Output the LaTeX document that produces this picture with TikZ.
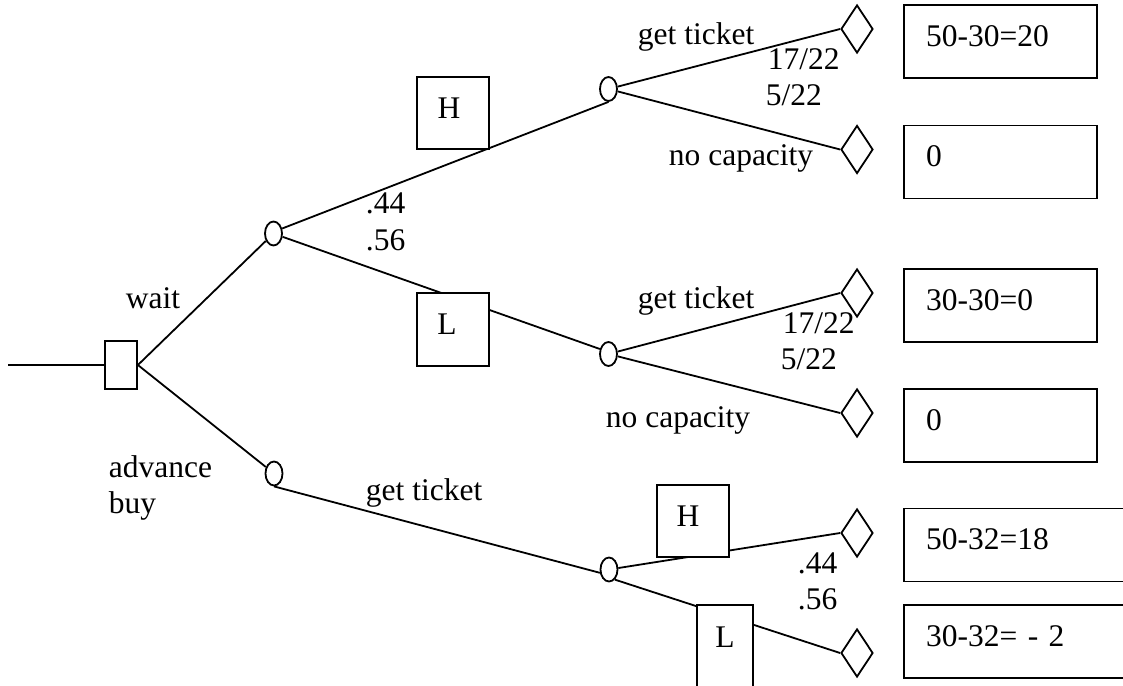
\documentclass[tikz,border=0pt]{standalone}
\usepackage{fontspec}
\setmainfont{Liberation Serif}
\usetikzlibrary{shapes.geometric}
\begin{document}
\begin{tikzpicture}[x=1pt,y=-1pt,
  line width=1.8pt,
  every node/.style={font=\fontsize{31.5}{36}\selectfont},
  chance/.style={draw, ellipse, fill=white, minimum width=17pt, minimum height=24pt, inner sep=0pt},
  decision/.style={draw, rectangle, fill=white, minimum width=32pt, minimum height=48pt, inner sep=0pt},
  endpt/.style={draw, diamond, fill=white, minimum width=32pt, minimum height=48pt, inner sep=0pt},
  statebox/.style={draw, rectangle, fill=white, minimum width=72pt, minimum height=72pt, inner sep=0pt},
  payoff/.style={draw, rectangle, fill=white, minimum height=73pt, inner xsep=22pt, inner ysep=0pt, text width=149pt, align=left, text height=34pt, text depth=25pt},
  widepayoff/.style={payoff, text width=192pt},
  txt/.style={anchor=base west, inner sep=0pt}
]
\useasboundingbox (0,0) rectangle (1123,685);
\clip (0,0) rectangle (1123,685);

% decision and chance nodes
\coordinate (start) at (8,365);
\node[decision] (sq) at (121,365) {};
\node[chance] (c1) at (273.5,233.5) {};
\node[chance] (c2) at (608.5,89) {};
\node[chance] (c3) at (608.5,354) {};
\node[chance] (c4) at (274,473.5) {};
\node[chance] (c5) at (609,569.5) {};

% end points
\node[endpt] (d1) at (857,29) {};
\node[endpt] (d2) at (857,149.5) {};
\node[endpt] (d3) at (857,293) {};
\node[endpt] (d4) at (857,413) {};
\node[endpt] (d5) at (857,533) {};
\node[endpt] (d6) at (857,653) {};

% connectors
\draw (start) -- (sq.west);
\draw (sq.east) -- (c1);
\draw (sq.east) -- (c4);
\draw (c1.30) -- (c2.south);
\draw (c1.-20) -- (c3.150);
\draw (c2) -- (d1.west);
\draw (c2) -- (d2.west);
\draw (c3) -- (d3.west);
\draw (c3) -- (d4.west);
\draw (c4.south) -- (c5.200);
\draw (c5) -- (d5.west);
\draw (c5.-60) -- (d6.west);

% state boxes
\node[statebox, text height=30pt, text depth=20pt] (h1) at (453,113) {\hspace*{-8pt}H};
\node[statebox, minimum height=73pt, text height=29pt, text depth=20pt] (l1) at (453,329.5) {\hspace*{-12pt}L};
\node[statebox, text height=30pt, text depth=20pt] (h2) at (693,521) {\hspace*{-10pt}H};
\node[statebox, minimum width=56pt, minimum height=100pt, text height=14pt, text depth=30pt] (l2) at (725,655) {L};

% payoff boxes
\node[payoff] (p1) at (1000.5,41.5) {50-30=20};
\node[payoff] (p2) at (1000.5,162) {0};
\node[payoff] (p3) at (1000.5,305.5) {30-30=0};
\node[payoff] (p4) at (1000.5,425.5) {0};
\node[widepayoff] (p5) at (1022,545) {50-32=18};
\node[widepayoff] (p6) at (1022,641.5) {30-32= - 2};

% branch labels
\node[txt] (lwait) at (125,308) {wait};
\node[txt] (ladv) at (108,477) {advance};
\node[txt] (lbuy) at (108,513) {buy};
\node[txt] (pa1) at (365,213) {.44};
\node[txt] (pa2) at (365,250) {.56};
\node[txt] (g1) at (637,45) {get ticket};
\node[txt] (q1) at (767,69) {17/22};
\node[txt] (q2) at (765,105) {5/22};
\node[txt] (n1) at (668,165) {no capacity};
\node[txt] (g2) at (637,308) {get ticket};
\node[txt] (q3) at (782,333) {17/22};
\node[txt] (q4) at (780,369) {5/22};
\node[txt] (n2) at (605,427) {no capacity};
\node[txt] (g3) at (365,500) {get ticket};
\node[txt] (pb1) at (797,573) {.44};
\node[txt] (pb2) at (797,609) {.56};
\end{tikzpicture}
\end{document}
